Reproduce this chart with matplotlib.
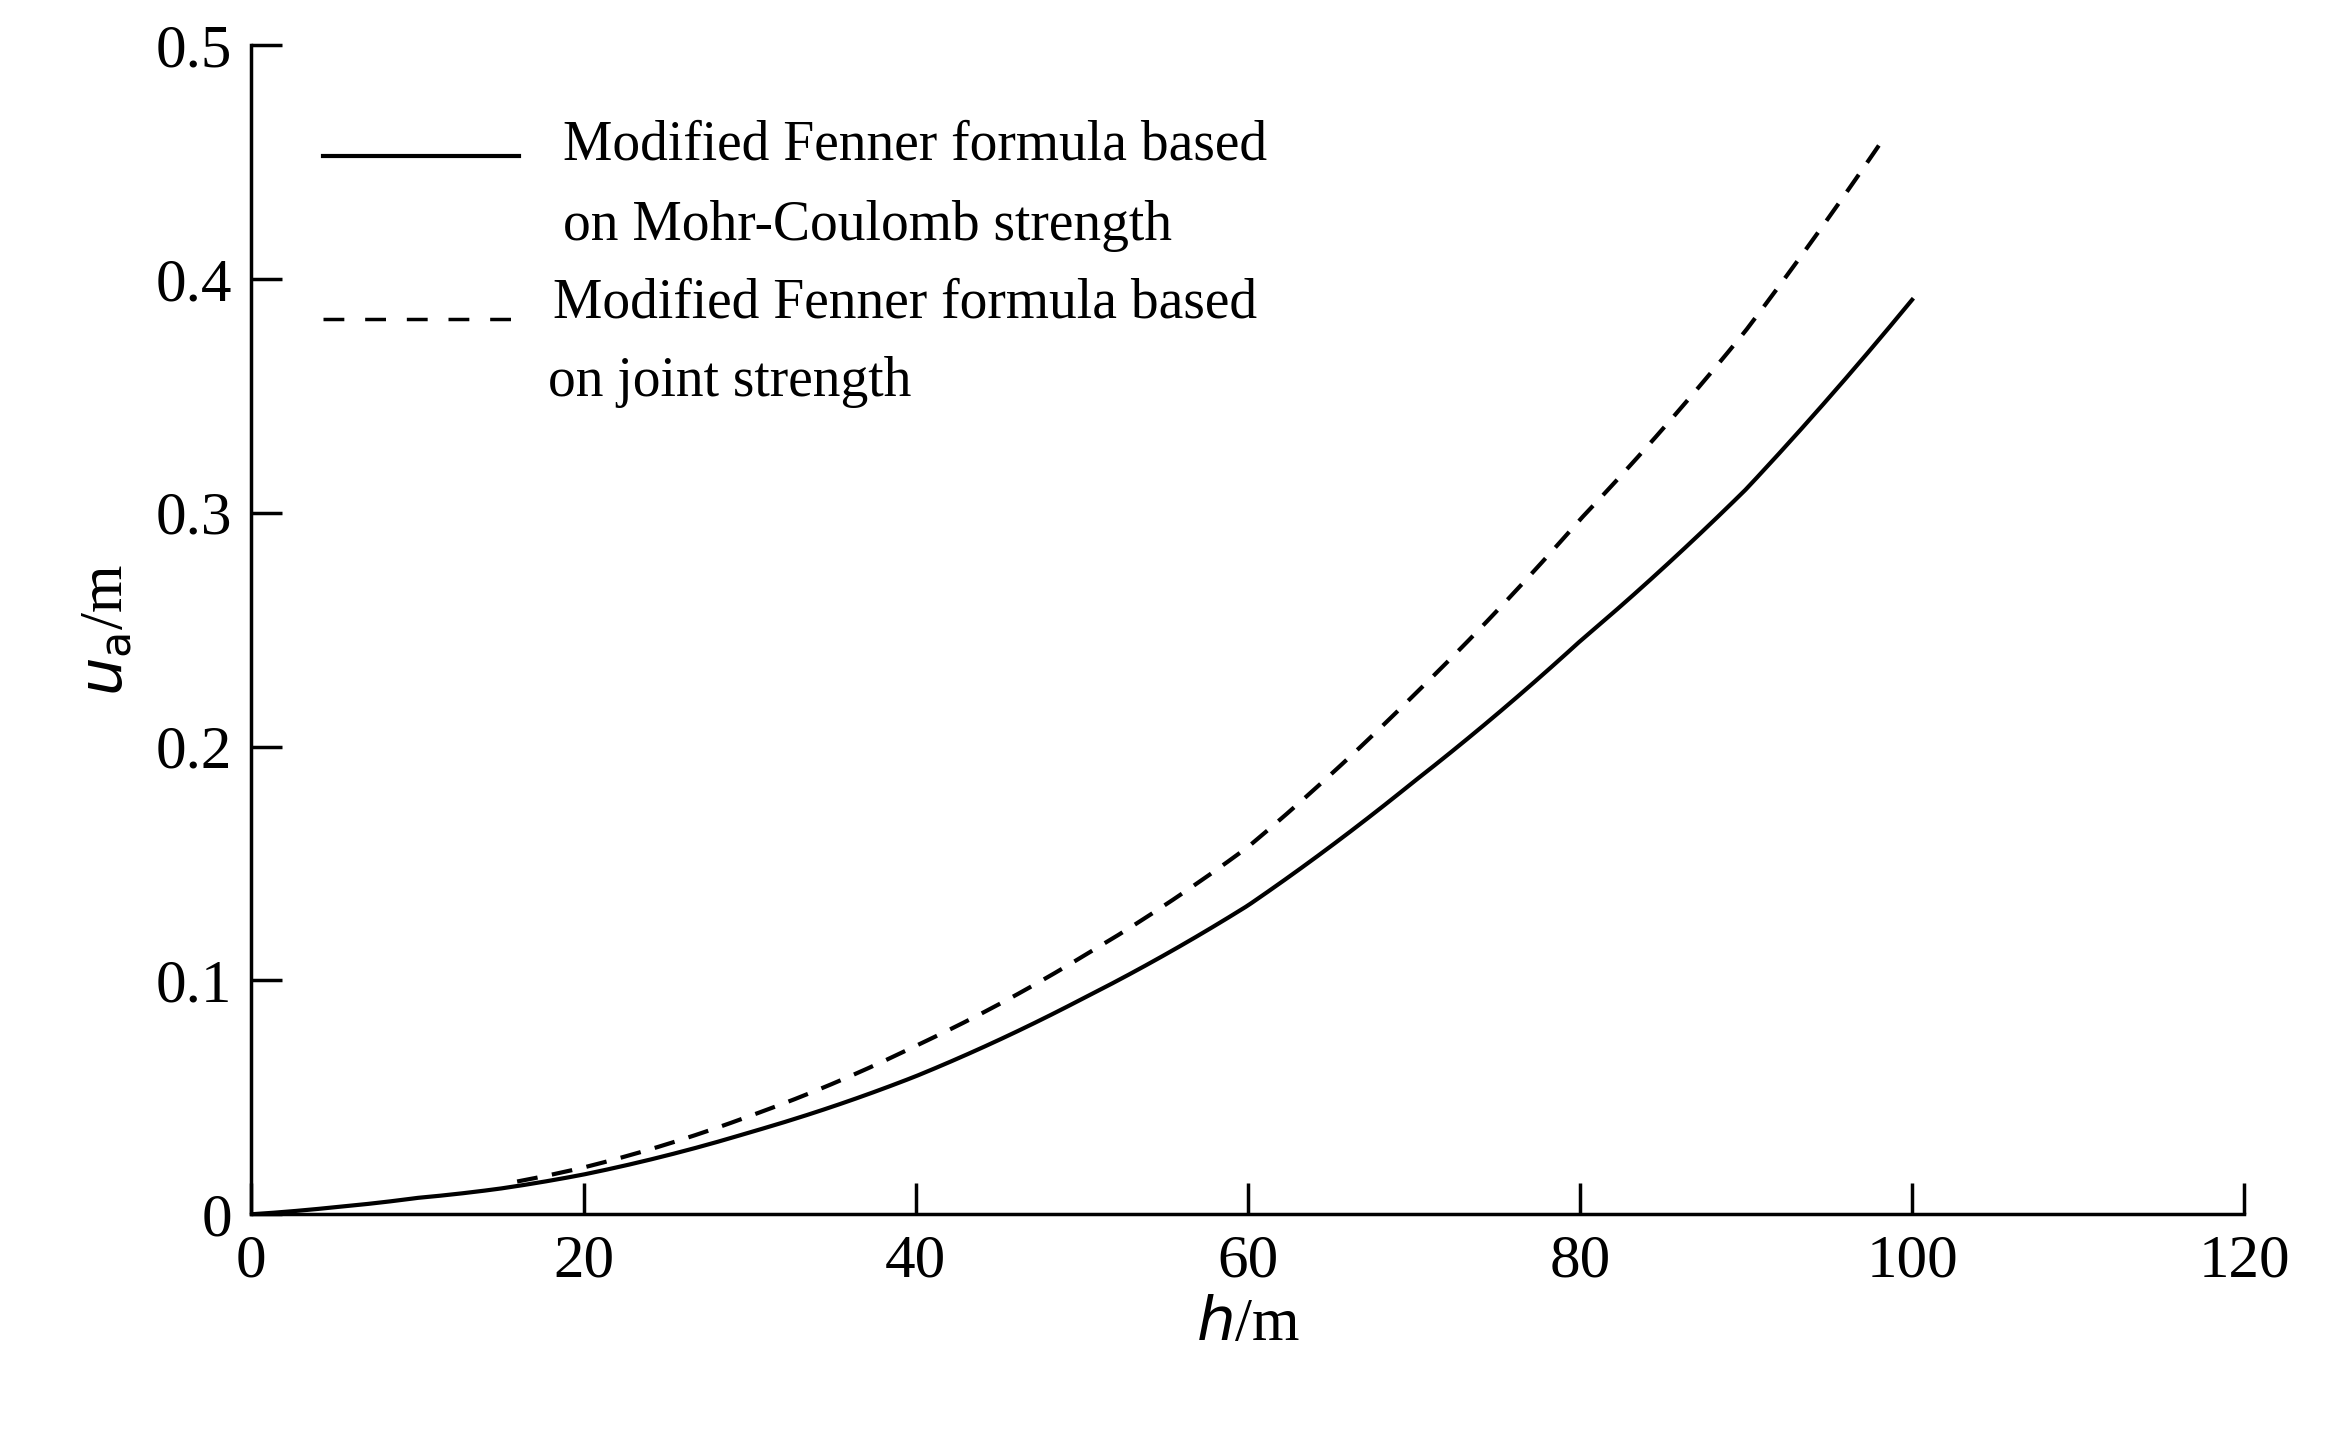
import matplotlib
matplotlib.use("Agg")
import matplotlib.pyplot as plt
from matplotlib.lines import Line2D
import numpy as np

h_mc = [0, 5, 10, 15, 20, 30, 40, 50, 60, 70, 80, 90, 100]
u_mc = [0, 0.003, 0.007, 0.011, 0.017, 0.035, 0.059, 0.092, 0.132, 0.185, 0.245, 0.31, 0.391]
h_js = [16, 20, 30, 40, 50, 60, 70, 80, 90, 98]
u_js = [0.014, 0.020, 0.042, 0.072, 0.110, 0.157, 0.222, 0.297, 0.378, 0.457]
xticks = [0, 20, 40, 60, 80, 100, 120]
yticks = [0, 0.1, 0.2, 0.3, 0.4, 0.5]
ytlabels = ["0", "0.1", "0.2", "0.3", "0.4", "0.5"]

plt.rcParams['font.family'] = ['Liberation Serif', 'DejaVu Serif']
fig = plt.figure(figsize=(23.28, 14.49), dpi=100)
ax = fig.add_axes([0.108, 0.162, 0.856, 0.807])

def smooth(x, y):
    xs = np.linspace(x[0], x[-1], 300)
    # monotone cubic-like interpolation via numpy polyfit on segments
    from numpy import interp
    c = np.polyfit(x, y, 3)
    ys = np.polyval(c, xs)
    # blend toward original points
    ys = ys + interp(xs, x, np.array(y) - np.polyval(c, x))
    return xs, ys

xs, ys = smooth(h_mc, u_mc)
ax.plot(xs, ys, color='black', lw=3)
xs, ys = smooth(h_js, u_js)
ax.plot(xs, ys, color='black', lw=3, dashes=(5, 3.5))

ax.set_xlim(0, 120)
ax.set_ylim(0, 0.5)
ax.set_xticks(xticks)
ax.set_yticks(yticks)
ax.set_yticklabels(ytlabels)
ax.spines['top'].set_visible(False)
ax.spines['right'].set_visible(False)
ax.spines['left'].set_linewidth(2.5)
ax.spines['bottom'].set_linewidth(2.5)
ax.tick_params(direction='in', length=22, width=2.5, labelsize=44, pad=14, colors='black')
ax.set_xlabel(r"$h$/m", fontsize=44, labelpad=6)
ax.set_ylabel(r"$u_{\mathrm{a}}$/m", fontsize=44, labelpad=14)

def fx(px): return (px - 170) / 1342
def fy(py): return (818 - py) / 788

ax.add_line(Line2D([fx(218), fx(350)], [fy(105), fy(105)], transform=ax.transAxes, color='black', lw=3))
ax.add_line(Line2D([fx(218), fx(350)], [fy(215), fy(215)], transform=ax.transAxes, color='black', lw=2.5, dashes=(6, 6)))
ax.text(fx(380), fy(98), "Modified Fenner formula based", transform=ax.transAxes, fontsize=40, va='center')
ax.text(fx(380), fy(152), "on Mohr-Coulomb strength", transform=ax.transAxes, fontsize=40, va='center')
ax.text(fx(373), fy(204), "Modified Fenner formula based", transform=ax.transAxes, fontsize=40, va='center')
ax.text(fx(370), fy(257), "on joint strength", transform=ax.transAxes, fontsize=40, va='center')

fig.savefig("out.png", dpi=100)
